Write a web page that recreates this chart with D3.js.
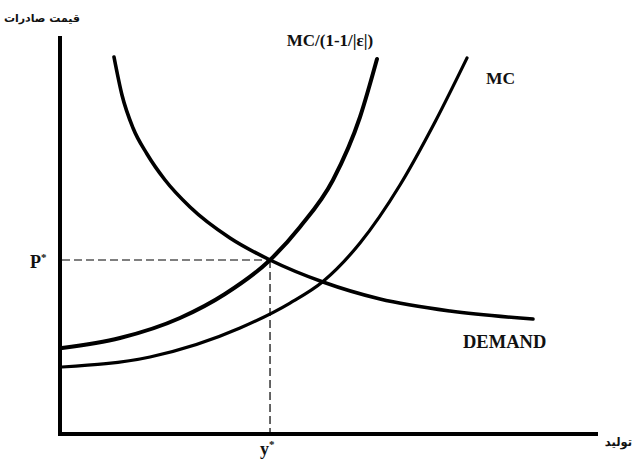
<!DOCTYPE html>
<html><head><meta charset="utf-8">
<script src="https://cdn.jsdelivr.net/npm/d3@7"></script>
<style>body{margin:0;background:#fff}svg{display:block}</style>
</head><body>
<script>
// data (abstract units 0..100)
const demandX = [9.70, 11.19, 13.25, 15.86, 19.22, 23.88, 31.34, 38.81, 48.69, 59.33, 72.39, 87.87];
const demandY = [94.72, 85.18, 76.88, 70.35, 63.82, 57.04, 49.25, 43.72, 38.19, 33.92, 30.90, 28.89];
const markupX = [0, 10.82, 22.01, 30.41, 38.81, 44.40, 50.56, 55.60, 58.77];
const markupY = [21.61, 24.12, 29.15, 35.18, 43.72, 52.01, 63.82, 79.65, 94.22];
const mcX = [0, 16.42, 33.21, 42.54, 48.69, 55.60, 63.06, 69.59, 75.56];
const mcY = [16.83, 19.35, 26.63, 32.91, 38.32, 47.99, 62.56, 78.39, 94.47];
const eqX = 38.81, eqY = 43.72;
const labels = {yAxis: "قیمت صادرات", xAxis: "تولید", p: "P", y: "y", markup: "MC/(1-1/|ε|)", mc: "MC", demand: "DEMAND"};

const W = 636, H = 462;
const svg = d3.select("body").append("svg").attr("width", W).attr("height", H);
const x = d3.scaleLinear().domain([0, 100]).range([62, 598]);
const y = d3.scaleLinear().domain([0, 100]).range([434, 36]);

const line = d3.line().x(d => x(d[0])).y(d => y(d[1])).curve(d3.curveMonotoneX);
const zip = (a, b) => a.map((v, i) => [v, b[i]]);

// dashed guides
svg.append("line").attr("x1", x(0)).attr("y1", y(eqY)).attr("x2", x(eqX)).attr("y2", y(eqY))
  .attr("stroke", "#000").attr("stroke-width", 1.2).attr("stroke-dasharray", "8,4");
svg.append("line").attr("x1", x(eqX)).attr("y1", y(eqY)).attr("x2", x(eqX)).attr("y2", y(0))
  .attr("stroke", "#000").attr("stroke-width", 1.2).attr("stroke-dasharray", "8,4");

// curves
svg.append("path").attr("d", line(zip(demandX, demandY))).attr("fill", "none").attr("stroke", "#000").attr("stroke-width", 3.6).attr("stroke-linecap", "round");
svg.append("path").attr("d", line(zip(markupX, markupY))).attr("fill", "none").attr("stroke", "#000").attr("stroke-width", 4).attr("stroke-linecap", "round");
svg.append("path").attr("d", line(zip(mcX, mcY))).attr("fill", "none").attr("stroke", "#000").attr("stroke-width", 3.2).attr("stroke-linecap", "round");

// axes
svg.append("line").attr("x1", x(0) - 2).attr("y1", y(100)).attr("x2", x(0) - 2).attr("y2", y(0) + 2)
  .attr("stroke", "#000").attr("stroke-width", 4);
svg.append("line").attr("x1", x(0) - 4).attr("y1", y(0)).attr("x2", x(100)).attr("y2", y(0))
  .attr("stroke", "#000").attr("stroke-width", 4);

const serif = "'Liberation Serif','Times New Roman',serif";
function txt(s, px, py, size, anchor, fam) {
  return svg.append("text").attr("x", px).attr("y", py).attr("font-family", fam || serif)
    .attr("font-weight", "bold").attr("font-size", size).attr("text-anchor", anchor || "start").attr("fill", "#111").text(s);
}
const tp = txt(labels.p, 30, 268, 18);
tp.append("tspan").attr("font-size", 11).attr("dy", -7).text("*");
const ty = txt(labels.y, 260, 455, 18);
ty.append("tspan").attr("font-size", 11).attr("dy", -7).text("*");
txt(labels.markup, 330, 46, 17, "middle");
txt(labels.mc, 486, 84, 17.5);
txt(labels.demand, 463, 348, 18.5);
txt(labels.yAxis, 80, 22, 11, "end", "'DejaVu Sans',sans-serif");
txt(labels.xAxis, 632, 446, 11.5, "end", "'DejaVu Sans',sans-serif");
</script>
</body></html>
